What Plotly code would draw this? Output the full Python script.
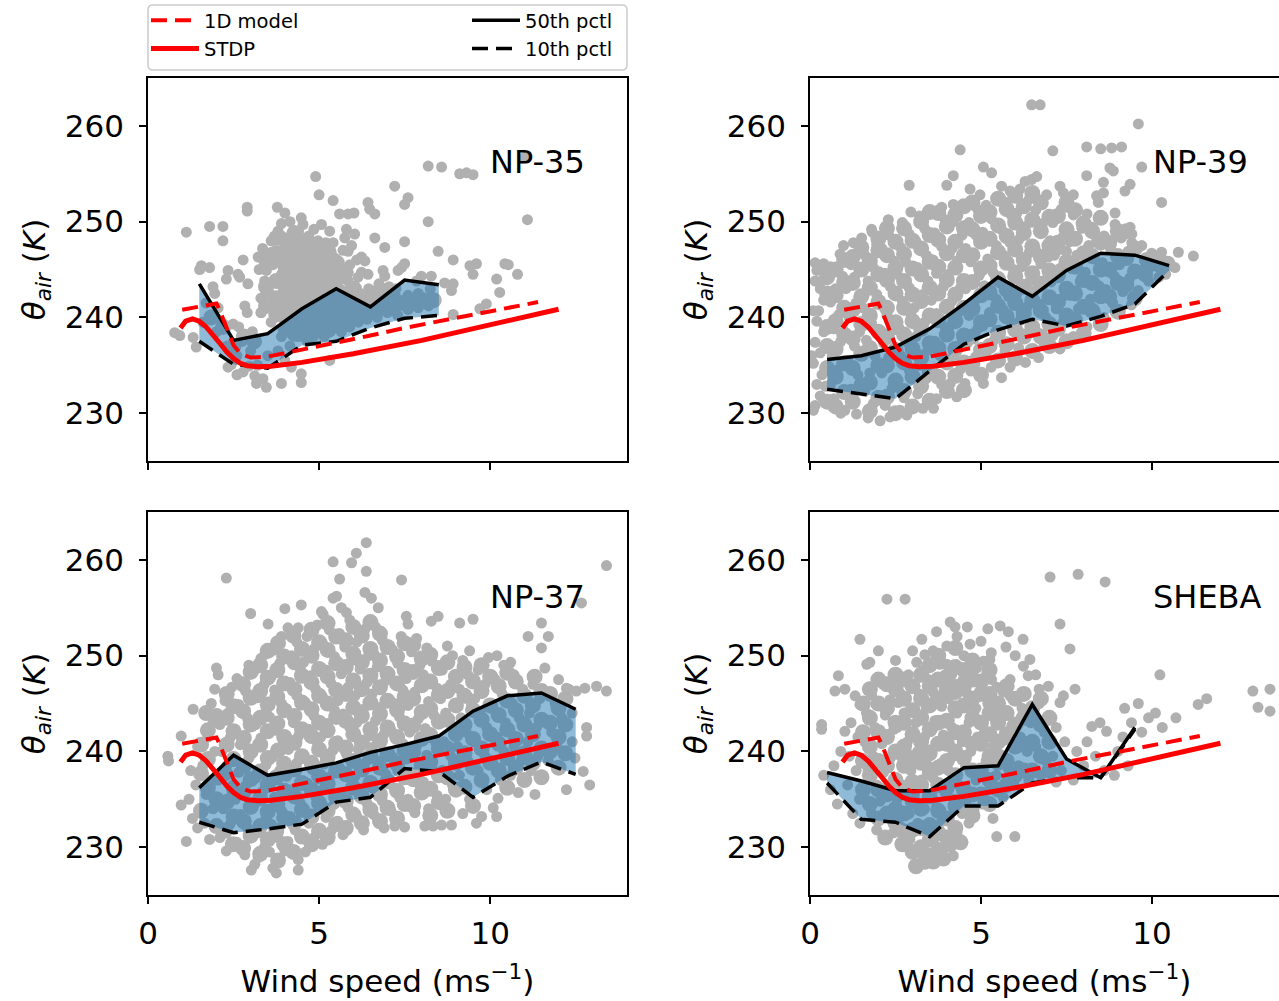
import plotly.graph_objects as go

W, H = 1279, 1001

# ---------------- model curves (same in every panel) ----------------
model1d_x = [1.0, 2.0, 2.1, 2.3, 2.5, 2.7, 3.0, 3.5, 4.5, 5.5, 6.5, 7.5, 8.5, 9.5, 10.5, 11.4]
model1d_y = [240.8, 241.45, 240.7, 238.8, 237.1, 236.2, 235.8, 235.9, 236.6, 237.3, 238.1, 238.9, 239.6, 240.3, 241.0, 241.6]
stdp_x = [0.95, 1.1, 1.3, 1.5, 1.7, 1.9, 2.1, 2.3, 2.5, 2.7, 2.9, 3.2, 3.6, 4.5, 6.0, 8.0, 10.0, 12.0]
stdp_y = [238.9, 239.6, 239.85, 239.6, 239.0, 238.2, 237.3, 236.4, 235.7, 235.2, 234.95, 234.85, 234.9, 235.3, 236.2, 237.6, 239.2, 240.85]

# ---------------- percentiles ----------------
np35_bins = [1.5, 2.5, 3.5, 4.5, 5.5, 6.5, 7.5, 8.5]
np35_p50 = [243.5, 237.6, 238.3, 240.9, 243.0, 241.1, 243.9, 243.4]
np35_p10 = [237.5, 235.1, 234.7, 237.1, 237.5, 238.9, 239.9, 240.2]

np39_bins = [0.5, 1.5, 2.5, 3.5, 4.5, 5.5, 6.5, 7.5, 8.5, 9.5, 10.5]
np39_p50 = [235.6, 236.0, 236.9, 238.8, 241.4, 244.2, 242.2, 244.9, 246.7, 246.5, 245.4]
np39_p10 = [232.5, 232.0, 231.5, 234.4, 237.2, 238.7, 239.8, 239.1, 240.1, 241.4, 244.9]

np37_bins = [1.5, 2.5, 3.5, 4.5, 5.5, 6.5, 7.5, 8.5, 9.5, 10.5, 11.5, 12.5]
np37_p50 = [236.2, 239.6, 237.5, 238.1, 238.8, 239.9, 240.7, 241.6, 244.2, 245.8, 246.1, 244.4]
np37_p10 = [232.6, 231.5, 231.9, 232.4, 234.7, 235.2, 238.2, 237.9, 235.2, 237.4, 238.9, 237.6]

sheba_bins = [0.5, 1.5, 2.5, 3.5, 4.5, 5.5, 6.5, 7.5, 8.5, 9.5]
sheba_p50 = [237.8, 236.9, 235.9, 235.9, 238.3, 238.5, 244.9, 239.2, 237.25, 242.5]
sheba_p10 = [236.7, 232.9, 232.6, 231.1, 234.3, 234.3, 236.7, 237.25, 237.25, 242.3]

# ---------------- observations (wind speed, theta_air) ----------------
np35_points = [
    (8.19, 255.8), (8.58, 255.7), (9.11, 255.0), (9.31, 255.1), (9.50, 254.9), (11.0, 256.7), (11.09, 250.2),
    (4.90, 254.7), (7.21, 253.7), (5.0, 252.8), (5.41, 252.2), (7.60, 252.5), (7.50, 251.8), (6.43, 252.0),
    (6.48, 251.3), (6.63, 250.8), (2.90, 251.5), (2.90, 251.1), (3.78, 251.5), (4.0, 250.9), (5.60, 250.8),
    (5.85, 250.8), (6.02, 250.9), (4.48, 250.4), (4.53, 249.7), (8.19, 250.0), (1.80, 249.5), (2.19, 249.5),
    (1.12, 248.9), (5.07, 249.7), (5.31, 249.0), (3.80, 249.0), (3.90, 248.5), (2.19, 248.0), (5.80, 249.2),
    (6.04, 248.7), (5.75, 248.3), (6.63, 248.3), (7.50, 247.9), (4.68, 247.6), (4.29, 247.6), (4.09, 246.9),
    (4.97, 248.0), (5.21, 247.5), (5.41, 247.8), (6.92, 247.3), (8.48, 246.9), (3.61, 246.8), (3.22, 246.3),
    (2.78, 246.0), (4.78, 246.3), (5.07, 246.6), (5.85, 246.9), (6.24, 246.3), (6.34, 245.9), (8.92, 246.0),
    (9.41, 245.4), (9.60, 245.6), (9.50, 244.5), (10.43, 245.6), (10.53, 245.5), (10.80, 244.5), (1.51, 245.0),
    (1.80, 245.2), (1.56, 245.4), (2.34, 244.9), (2.29, 244.0), (2.63, 244.5), (2.68, 244.2), (2.92, 243.5),
    (1.90, 243.2), (3.46, 244.9), (3.41, 243.8), (3.70, 243.8), (6.24, 244.7), (6.14, 244.2), (6.43, 244.5),
    (6.87, 244.9), (6.92, 244.3), (6.82, 243.1), (7.31, 244.9), (7.50, 245.6), (7.41, 245.2), (7.99, 244.3),
    (8.28, 244.3), (8.67, 243.6), (8.92, 243.5), (8.87, 242.8), (10.19, 244.0), (10.28, 242.6), (9.89, 241.4),
    (9.70, 240.9), (8.92, 240.3), (2.83, 241.2), (2.49, 239.3), (0.78, 238.4), (0.93, 238.1), (1.32, 237.9),
    (1.41, 236.9), (3.31, 240.5), (2.44, 235.1), (2.34, 234.8), (2.78, 234.3), (3.12, 233.9), (3.17, 233.1),
    (3.46, 232.7), (3.36, 233.6), (3.90, 233.1), (4.19, 234.8), (4.48, 234.1), (4.48, 233.2), (5.31, 235.5),
    (3.3, 240.5), (3.3, 242.0), (3.25, 245.0), (3.35, 247.2),
    (3.6, 239.5), (3.6, 241.0), (3.55, 242.5), (3.65, 245.5), (3.6, 248.0),
    (3.9, 238.0), (3.9, 240.0), (3.85, 241.5), (3.95, 243.0), (3.9, 244.5), (3.85, 245.8), (3.95, 247.0), (3.9, 249.8),
    (4.15, 237.0), (4.15, 239.0), (4.2, 240.5), (4.1, 242.0), (4.15, 243.5), (4.2, 244.8), (4.15, 246.2), (4.2, 248.2), (4.15, 250.0),
    (4.4, 238.0), (4.4, 239.5), (4.45, 241.0), (4.35, 242.5), (4.4, 243.8), (4.45, 245.0), (4.4, 246.0), (4.35, 247.3), (4.4, 249.0),
    (4.65, 237.5), (4.65, 239.0), (4.7, 240.5), (4.6, 242.0), (4.65, 243.2), (4.7, 244.5), (4.6, 245.5), (4.65, 246.8), (4.7, 248.5),
    (4.9, 238.5), (4.9, 240.0), (4.95, 241.5), (4.85, 242.8), (4.9, 244.0), (4.95, 245.2), (4.9, 246.5), (4.85, 249.2),
    (5.15, 238.0), (5.15, 239.5), (5.2, 241.0), (5.1, 242.5), (5.15, 243.5), (5.2, 244.8), (5.15, 246.0), (5.2, 247.8),
    (5.4, 239.0), (5.4, 240.5), (5.45, 242.0), (5.35, 243.5), (5.4, 245.0), (5.45, 246.2),
    (5.65, 238.5), (5.65, 240.0), (5.7, 241.5), (5.6, 243.0), (5.65, 244.0), (5.7, 247.0),
    (5.9, 239.0), (5.9, 240.8), (5.95, 242.0), (5.85, 243.8), (5.9, 245.5), (5.95, 247.5),
    (6.15, 239.5), (6.15, 241.0), (6.2, 242.5), (6.1, 246.0), (6.4, 239.8), (6.4, 241.5), (6.45, 243.0),
    (6.7, 240.0), (6.7, 241.8), (6.75, 243.5), (7.0, 240.5), (7.0, 242.0), (7.05, 243.2),
    (7.3, 240.2), (7.3, 241.5), (7.25, 243.0), (7.6, 240.8), (7.6, 242.3),
    (7.9, 241.0), (7.9, 242.5), (7.85, 243.8), (8.2, 241.2), (8.2, 242.0), (8.25, 243.0),
    (2.6, 236.0), (2.75, 237.5), (2.65, 239.0), (2.9, 240.5), (3.0, 236.5), (3.05, 238.5),
    (2.0, 238.5), (2.05, 241.0), (1.95, 242.5), (1.6, 239.5), (1.7, 241.5), (2.3, 237.0),
    (3.5, 236.0), (3.8, 236.5), (4.0, 235.5), (3.2, 235.0), (2.95, 234.9), (2.6, 234.0),
]
np35_core = [
    (3.45, 241.2), (3.45, 243.2), (3.45, 246.0), (3.75, 240.3), (3.75, 242.0), (3.75, 243.8), (3.75, 246.7), (3.75, 248.3),
    (4.02, 238.8), (4.02, 240.8), (4.02, 242.3), (4.02, 243.8), (4.02, 245.2), (4.02, 246.3), (4.02, 248.0),
    (4.28, 238.3), (4.28, 239.8), (4.28, 241.2), (4.28, 242.8), (4.28, 244.2), (4.28, 245.5), (4.28, 246.8), (4.28, 248.8),
    (4.53, 238.8), (4.53, 240.2), (4.53, 241.6), (4.53, 243.2), (4.53, 244.3), (4.53, 245.5), (4.53, 246.7), (4.53, 248.0),
    (4.78, 238.2), (4.78, 239.8), (4.78, 241.2), (4.78, 242.5), (4.78, 243.8), (4.78, 245.0), (4.78, 247.3),
    (5.02, 238.8), (5.02, 240.8), (5.02, 242.0), (5.02, 243.3), (5.02, 244.6), (5.02, 245.8), (5.02, 247.2),
    (5.28, 238.7), (5.28, 240.2), (5.28, 241.7), (5.28, 243.0), (5.28, 244.2), (5.28, 245.5), (5.28, 246.8),
    (5.52, 239.8), (5.52, 241.3), (5.52, 242.7), (5.52, 244.2), (5.52, 245.7),
    (5.78, 239.5), (5.78, 241.0), (5.78, 242.5), (5.78, 244.7), (6.02, 240.2), (6.02, 241.5), (6.02, 243.0),
    (6.28, 240.5), (6.28, 242.0), (6.55, 240.8), (6.55, 242.5), (6.85, 241.0), (6.85, 242.5),
    (7.15, 241.0), (7.15, 242.4), (7.45, 241.5), (7.75, 241.5), (8.05, 241.8), (8.35, 241.8),
    (2.8, 238.0), (2.5, 237.0), (3.1, 237.5), (2.2, 239.0), (1.85, 240.0),
]

np39_points = [
    (0.1, 230.3), (0.15, 230.8), (0.3, 231.8), (0.2, 233.0), (0.35, 234.0), (0.1, 235.2), (0.3, 236.3), (0.15, 237.4),
    (0.4, 238.5), (0.2, 239.6), (0.1, 240.7), (0.25, 240.7), (0.4, 241.8), (0.3, 243.0), (0.15, 243.8), (0.2, 244.9),
    (0.15, 245.7), (0.4, 245.6), (0.34, 243.8), (0.5, 245.0), (0.45, 232.8), (0.05, 236.0),
    (0.9, 230.0), (0.7, 231.5), (0.6, 233.0), (0.8, 234.5), (0.65, 236.0), (0.9, 237.5), (0.7, 238.8), (0.85, 240.3),
    (0.6, 241.6), (0.75, 243.0), (0.95, 244.3), (0.6, 245.3), (0.88, 246.6), (0.98, 247.5),
    (1.36, 229.9), (1.02, 230.3), (1.2, 232.5), (1.4, 234.0), (1.1, 235.5), (1.3, 237.0), (1.45, 238.5), (1.15, 240.0),
    (1.35, 241.5), (1.05, 243.0), (1.3, 244.2), (1.2, 245.5), (1.45, 246.8), (1.27, 247.8), (1.51, 248.3),
    (1.7, 229.5), (1.85, 231.0), (1.6, 232.3), (1.75, 234.2), (1.9, 236.0), (1.65, 237.6), (1.8, 239.4), (1.55, 241.0),
    (1.95, 242.4), (1.7, 243.8), (1.85, 245.2), (1.6, 246.5), (1.95, 247.6), (1.8, 249.2), (1.82, 248.9),
    (2.05, 229.2), (2.34, 229.6), (2.2, 230.8), (2.4, 232.6), (2.1, 234.2), (2.3, 235.8), (2.15, 237.3), (2.45, 238.7),
    (2.25, 240.2), (2.05, 241.8), (2.35, 243.2), (2.2, 244.6), (2.45, 245.9), (2.1, 247.2), (2.3, 248.6), (2.29, 250.2),
    (2.83, 229.8), (2.63, 230.3), (2.75, 231.6), (2.55, 233.0), (2.9, 234.5), (2.65, 236.0), (2.85, 237.4), (2.6, 238.9),
    (2.95, 240.3), (2.7, 241.7), (2.9, 243.1), (2.55, 244.5), (2.8, 245.8), (2.65, 247.3), (2.9, 248.7), (2.7, 249.9),
    (2.9, 253.8), (2.95, 251.0),
    (3.3, 230.5), (3.15, 232.0), (3.4, 233.6), (3.2, 235.0), (3.45, 236.6), (3.1, 238.0), (3.35, 239.5), (3.05, 241.0),
    (3.3, 242.4), (3.45, 243.8), (3.15, 245.2), (3.4, 246.5), (3.1, 247.9), (3.35, 249.3), (3.2, 250.6),
    (3.61, 230.5), (3.7, 231.5), (3.85, 233.0), (3.6, 234.5), (3.8, 236.0), (3.65, 237.5), (3.95, 239.0), (3.7, 240.4),
    (3.55, 241.8), (3.9, 243.2), (3.7, 244.6), (3.6, 246.0), (3.85, 247.4), (3.65, 248.8), (3.95, 250.2), (3.85, 251.5),
    (4.0, 253.8),
    (4.29, 231.7), (4.1, 233.1), (4.4, 234.6), (4.2, 236.0), (4.45, 237.4), (4.05, 238.8), (4.3, 240.3), (4.15, 241.7),
    (4.4, 243.1), (4.05, 244.5), (4.3, 245.9), (4.15, 247.2), (4.45, 248.6), (4.2, 250.0), (4.19, 251.8), (4.19, 254.8),
    (4.39, 257.5),
    (4.53, 233.1), (4.7, 234.4), (4.85, 235.9), (4.6, 237.3), (4.9, 238.8), (4.65, 240.2), (4.8, 241.6), (4.55, 243.0),
    (4.95, 244.4), (4.7, 245.8), (4.55, 247.2), (4.85, 248.6), (4.65, 249.9), (4.9, 251.3), (4.68, 253.4), (4.97, 252.8),
    (5.07, 233.1), (5.3, 234.8), (5.15, 236.2), (5.4, 237.7), (5.05, 239.1), (5.25, 240.5), (5.45, 241.9), (5.1, 243.3),
    (5.35, 244.7), (5.2, 246.1), (5.45, 247.5), (5.05, 248.9), (5.3, 250.3), (5.15, 251.7), (5.07, 255.7), (5.31, 255.1),
    (5.6, 233.7), (5.85, 234.8), (5.7, 236.5), (5.55, 238.0), (5.9, 239.4), (5.65, 240.8), (5.8, 242.2), (5.55, 243.6),
    (5.95, 245.0), (5.7, 246.4), (5.85, 247.8), (5.6, 249.2), (5.9, 250.6), (5.75, 252.0), (5.6, 253.7), (5.85, 253.2),
    (6.3, 235.3), (6.1, 236.8), (6.4, 238.3), (6.15, 239.7), (6.35, 241.1), (6.05, 242.5), (6.45, 243.9), (6.2, 245.3),
    (6.4, 246.7), (6.1, 248.1), (6.3, 249.5), (6.05, 250.9), (6.4, 252.3), (6.14, 253.4), (6.29, 254.2), (6.48, 254.4),
    (6.48, 262.2),
    (6.68, 235.8), (6.85, 237.2), (6.6, 238.6), (6.9, 240.0), (6.7, 241.4), (6.55, 242.8), (6.95, 244.2), (6.75, 245.6),
    (6.6, 247.0), (7.02, 248.0), (6.8, 249.8), (6.6, 251.2), (6.92, 252.8), (6.63, 254.7), (6.73, 262.2), (6.97, 246.3),
    (7.31, 236.7), (7.1, 238.1), (7.4, 239.5), (7.2, 240.9), (7.45, 242.3), (7.05, 243.7), (7.3, 245.1), (7.15, 246.5),
    (7.31, 247.1), (7.4, 248.4), (7.1, 249.9), (7.35, 251.3), (7.31, 253.7), (7.41, 253.0), (7.1, 257.4),
    (7.7, 238.0), (7.55, 239.5), (7.85, 240.9), (7.6, 242.3), (7.9, 243.7), (7.65, 245.1), (7.8, 246.5), (7.5, 246.9),
    (7.6, 247.9), (7.95, 249.3), (7.7, 250.7), (7.7, 252.8), (7.55, 251.5),
    (8.1, 239.0), (8.35, 240.5), (8.2, 241.9), (8.45, 243.3), (8.05, 244.7), (8.3, 246.1), (8.15, 247.5), (8.38, 248.0),
    (8.25, 249.4), (8.1, 250.8), (8.38, 252.7), (8.43, 252.0), (8.09, 254.8), (8.09, 257.8), (8.58, 254.1),
    (8.6, 240.0), (8.85, 241.5), (8.65, 242.9), (8.9, 244.3), (8.55, 245.7), (8.8, 247.1), (8.6, 248.5), (8.92, 249.7),
    (8.92, 250.9), (8.58, 253.0), (8.77, 255.6), (8.87, 255.3), (8.5, 257.6), (8.82, 257.7),
    (9.4, 241.3), (9.15, 242.7), (9.35, 244.1), (9.05, 245.5), (9.3, 246.9), (9.1, 248.3), (9.41, 247.8), (9.41, 248.7),
    (9.36, 249.4), (9.36, 253.9), (9.21, 253.2), (9.11, 257.8), (9.6, 260.2), (9.7, 255.7),
    (9.6, 242.8), (9.9, 243.8), (10.2, 244.2), (9.75, 245.0), (9.99, 246.7), (10.28, 246.8), (10.1, 245.5), (10.4, 244.5),
    (9.7, 247.5), (10.28, 252.0), (10.67, 245.2), (10.77, 246.8), (11.21, 246.4), (10.5, 245.8),
]
np39_core = [
    (0.5, 231.2), (0.5, 234.7), (0.5, 237.0), (0.5, 239.0), (0.5, 242.5), (0.5, 244.2),
    (0.75, 230.7), (1.0, 232.2), (0.75, 233.8), (1.0, 235.2), (0.75, 236.7), (1.0, 238.2), (0.75, 239.6), (1.0, 241.0),
    (0.75, 242.3), (1.0, 243.7), (0.75, 245.0), (1.0, 246.0),
    (1.25, 231.2), (1.5, 232.9), (1.25, 234.7), (1.5, 236.2), (1.25, 237.8), (1.5, 239.3), (1.25, 240.8), (1.5, 242.2),
    (1.25, 243.6), (1.5, 245.0), (1.25, 246.3), (1.5, 247.3),
    (1.75, 230.2), (2.0, 231.6), (1.75, 233.2), (2.0, 235.0), (1.75, 236.8), (2.0, 238.5), (1.75, 240.2), (2.0, 241.6),
    (1.75, 243.1), (2.0, 244.5), (1.75, 245.9), (2.0, 247.0), (2.0, 248.2),
    (2.5, 230.0), (2.25, 231.7), (2.5, 233.4), (2.25, 235.0), (2.5, 236.6), (2.25, 238.0), (2.5, 239.5), (2.25, 241.0),
    (2.5, 242.5), (2.25, 243.9), (2.5, 245.2), (2.25, 246.5), (2.5, 247.9), (2.25, 249.3),
    (3.0, 230.7), (2.75, 232.3), (3.0, 233.8), (2.75, 235.3), (3.0, 236.7), (2.75, 238.2), (3.0, 239.6), (2.75, 241.0),
    (3.0, 242.4), (2.75, 243.8), (3.0, 245.1), (2.75, 246.6), (3.0, 248.0), (2.75, 249.3),
    (3.5, 231.3), (3.25, 232.8), (3.5, 234.3), (3.25, 235.8), (3.5, 237.3), (3.25, 238.8), (3.5, 240.2), (3.25, 241.7),
    (3.5, 243.1), (3.25, 244.5), (3.5, 245.8), (3.25, 247.2), (3.5, 248.6), (3.25, 250.0), (3.5, 251.0),
    (4.0, 232.3), (3.75, 233.8), (4.0, 235.3), (3.75, 236.8), (4.0, 238.2), (3.75, 239.7), (4.0, 241.1), (3.75, 242.5),
    (4.0, 243.9), (3.75, 245.3), (4.0, 246.7), (3.75, 248.1), (4.0, 249.5), (3.75, 250.9),
    (4.5, 232.4), (4.25, 233.9), (4.5, 235.3), (4.25, 236.7), (4.5, 238.1), (4.25, 239.6), (4.5, 241.0), (4.25, 242.4),
    (4.5, 243.8), (4.25, 245.2), (4.5, 246.5), (4.25, 247.9), (4.5, 249.3), (4.25, 250.7), (4.5, 251.6),
    (5.0, 234.0), (4.75, 235.2), (5.0, 236.6), (4.75, 238.0), (5.0, 239.5), (4.75, 240.9), (5.0, 242.3), (4.75, 243.7),
    (5.0, 245.1), (4.75, 246.5), (5.0, 247.9), (4.75, 249.2), (5.0, 250.6), (4.75, 252.0),
    (5.5, 235.5), (5.25, 237.0), (5.5, 238.4), (5.25, 239.8), (5.5, 241.2), (5.25, 242.6), (5.5, 244.0), (5.25, 245.4),
    (5.5, 246.8), (5.25, 248.2), (5.5, 249.6), (5.25, 251.0), (5.5, 252.4),
    (6.0, 235.7), (5.75, 237.2), (6.0, 238.7), (5.75, 240.1), (6.0, 241.5), (5.75, 242.9), (6.0, 244.3), (5.75, 245.7),
    (6.0, 247.1), (5.75, 248.5), (6.0, 249.9), (5.75, 251.3), (6.0, 252.7),
    (6.5, 236.5), (6.25, 238.0), (6.5, 239.0), (6.25, 240.4), (6.5, 241.8), (6.25, 243.2), (6.5, 244.6), (6.25, 246.0),
    (6.5, 247.4), (6.25, 248.8), (6.5, 250.2), (6.25, 251.6), (6.5, 253.0),
    (7.0, 237.0), (6.75, 238.0), (7.0, 239.3), (6.75, 240.7), (7.0, 242.1), (6.75, 243.5), (7.0, 244.9), (6.75, 246.3),
    (7.0, 247.5), (6.75, 249.0), (7.0, 250.5), (6.75, 252.0),
    (7.5, 237.5), (7.25, 238.8), (7.5, 240.2), (7.25, 241.6), (7.5, 243.0), (7.25, 244.4), (7.5, 245.8), (7.25, 247.8),
    (7.5, 249.2), (7.25, 250.6), (7.5, 252.0),
    (8.0, 238.3), (7.75, 239.7), (8.0, 241.1), (7.75, 242.5), (8.0, 243.9), (7.75, 245.3), (8.0, 246.7), (7.75, 248.2),
    (8.0, 249.8), (7.75, 251.2),
    (8.5, 239.3), (8.25, 240.7), (8.5, 242.2), (8.25, 243.6), (8.5, 245.0), (8.25, 246.4), (8.5, 247.8), (8.25, 249.0),
    (8.5, 250.4),
    (9.0, 240.6), (8.75, 242.2), (9.0, 243.6), (8.75, 245.0), (9.0, 246.4), (8.75, 247.8), (9.0, 249.0),
    (9.5, 242.0), (9.25, 243.4), (9.5, 244.8), (9.25, 246.2), (9.5, 247.2), (9.25, 249.0),
    (9.8, 244.5), (10.0, 245.6), (10.3, 245.2), (9.85, 246.0), (10.2, 246.0), (10.45, 245.6),
]

np37_points = [
    (0.58, 239.5), (0.6, 239.0), (0.97, 241.6), (0.97, 234.4), (1.12, 230.6),
    (1.3, 233.0), (1.2, 235.0), (1.4, 236.5), (1.25, 238.0), (1.32, 244.4), (1.45, 240.5), (1.45, 232.0),
    (1.8, 230.8), (1.65, 232.5), (1.9, 234.0), (1.7, 235.5), (1.85, 237.0), (1.6, 238.5), (1.95, 240.0), (1.75, 241.5),
    (1.9, 243.0), (1.85, 245.0), (1.95, 246.5),
    (2.29, 229.6), (2.1, 231.0), (2.4, 232.4), (2.2, 234.0), (2.45, 235.5), (2.05, 237.0), (2.3, 238.5), (2.15, 240.0),
    (2.4, 241.4), (2.1, 242.8), (2.34, 244.0), (2.25, 245.3), (2.45, 246.7), (2.0, 248.7), (2.05, 248.0), (2.29, 258.1),
    (2.83, 229.2), (2.6, 230.5), (2.9, 232.0), (2.7, 233.4), (2.55, 235.0), (2.85, 236.4), (2.65, 237.8), (2.95, 239.3),
    (2.7, 240.7), (2.55, 242.1), (2.9, 243.5), (2.65, 244.9), (2.85, 246.3), (2.6, 247.6), (2.95, 249.0), (3.0, 254.4),
    (3.12, 228.2), (3.22, 228.9), (3.02, 227.6), (3.4, 230.0), (3.2, 231.5), (3.45, 233.0), (3.1, 234.4), (3.35, 235.8),
    (3.15, 237.2), (3.45, 238.6), (3.05, 240.0), (3.3, 241.4), (3.15, 242.8), (3.45, 244.2), (3.2, 245.6), (3.4, 247.0),
    (3.1, 248.4), (3.3, 249.7), (3.41, 250.1), (3.51, 253.3),
    (3.65, 227.8), (3.75, 227.3), (4.0, 229.6), (3.55, 229.5), (3.8, 231.0), (3.6, 232.4), (3.9, 233.8), (3.7, 235.2),
    (3.55, 236.6), (3.85, 238.0), (3.65, 239.4), (3.95, 240.8), (3.75, 242.2), (3.55, 243.6), (3.9, 245.0), (3.7, 246.4),
    (3.6, 247.8), (3.85, 249.2), (3.7, 250.6), (3.9, 252.0), (4.0, 254.9),
    (4.39, 227.6), (4.39, 228.7), (4.09, 230.6), (4.3, 231.8), (4.15, 233.2), (4.45, 234.6), (4.2, 236.0), (4.05, 237.4),
    (4.35, 238.8), (4.1, 240.2), (4.4, 241.6), (4.25, 243.0), (4.05, 244.4), (4.35, 245.8), (4.15, 247.2), (4.45, 248.6),
    (4.2, 250.0), (4.35, 251.4), (4.09, 252.9), (4.39, 252.9), (4.48, 255.3),
    (4.6, 229.5), (4.85, 231.0), (4.7, 232.5), (4.55, 233.9), (4.9, 235.3), (4.65, 236.7), (4.8, 238.1), (4.55, 239.5),
    (4.95, 240.9), (4.7, 242.3), (4.85, 243.7), (4.6, 245.1), (4.9, 246.5), (4.75, 247.9), (4.55, 249.3), (4.85, 250.7),
    (4.65, 252.0), (4.95, 253.2),
    (5.1, 230.3), (5.35, 231.7), (5.2, 233.1), (5.45, 234.5), (5.05, 235.9), (5.3, 237.3), (5.15, 238.7), (5.4, 240.1),
    (5.05, 241.5), (5.25, 242.9), (5.45, 244.3), (5.1, 245.7), (5.35, 247.1), (5.2, 248.5), (5.45, 249.9), (5.1, 251.3),
    (5.3, 252.7), (5.07, 254.6), (5.12, 254.3), (5.41, 256.0), (5.41, 259.8),
    (5.7, 231.3), (5.55, 232.7), (5.85, 234.1), (5.65, 235.5), (5.95, 236.9), (5.6, 238.3), (5.8, 239.7), (5.55, 241.1),
    (5.9, 242.5), (5.7, 243.9), (5.55, 245.3), (5.85, 246.7), (5.65, 248.1), (5.95, 249.5), (5.75, 250.9), (5.6, 252.3),
    (5.9, 253.7), (5.65, 255.0), (5.8, 254.5), (5.51, 256.2), (5.6, 258.0), (5.95, 259.7),
    (6.3, 231.8), (6.1, 233.2), (6.4, 234.6), (6.2, 236.0), (6.05, 237.4), (6.35, 238.8), (6.15, 240.2), (6.45, 241.6),
    (6.1, 243.0), (6.3, 244.4), (6.05, 245.8), (6.4, 247.2), (6.2, 248.6), (6.45, 250.0), (6.1, 251.4), (6.35, 252.8),
    (6.34, 256.6), (6.38, 258.8), (6.09, 260.7), (6.38, 261.8),
    (6.9, 232.0), (6.6, 233.4), (6.85, 234.8), (6.55, 236.2), (6.95, 237.6), (6.7, 239.0), (6.55, 240.4), (6.9, 241.8),
    (6.65, 243.2), (6.8, 244.6), (6.55, 246.0), (6.95, 247.4), (6.7, 248.8), (6.6, 250.2), (6.85, 251.6), (6.65, 253.0),
    (6.73, 255.0), (6.53, 256.0),
    (7.21, 232.2), (7.5, 232.1), (7.1, 233.8), (7.35, 235.2), (7.05, 236.6), (7.3, 238.0), (7.15, 239.4), (7.45, 240.8),
    (7.1, 242.2), (7.35, 243.6), (7.2, 245.0), (7.45, 246.4), (7.05, 247.8), (7.3, 249.2), (7.15, 250.6), (7.4, 252.0),
    (7.41, 257.9),
    (7.8, 233.6), (7.6, 235.0), (7.95, 236.4), (7.7, 237.8), (7.55, 239.2), (7.85, 240.6), (7.65, 242.0), (7.9, 243.4),
    (7.6, 244.8), (7.8, 246.2), (7.55, 247.6), (7.95, 249.0), (7.7, 250.4), (7.85, 251.8), (7.6, 253.3), (7.55, 254.1),
    (8.09, 232.2), (8.33, 232.2), (8.2, 234.0), (8.45, 235.4), (8.05, 236.8), (8.3, 238.2), (8.15, 239.6), (8.4, 241.0),
    (8.1, 242.4), (8.35, 243.8), (8.2, 245.2), (8.45, 246.6), (8.05, 248.0), (8.3, 249.4), (8.15, 250.8), (8.28, 253.6),
    (8.48, 254.1),
    (8.58, 232.3), (8.87, 232.3), (8.7, 235.0), (8.9, 236.5), (8.6, 238.0), (8.85, 239.5), (8.65, 241.0), (8.95, 242.5),
    (8.7, 244.0), (8.55, 245.5), (8.85, 247.0), (8.6, 248.5), (8.9, 250.0), (8.75, 251.0),
    (9.2, 233.5), (9.4, 235.0), (9.1, 237.5), (9.35, 239.0), (9.05, 240.5), (9.3, 242.0), (9.15, 243.5), (9.45, 245.0),
    (9.1, 246.5), (9.35, 248.0), (9.2, 249.5), (9.11, 253.4), (9.4, 250.5),
    (9.6, 232.5), (9.75, 233.2), (9.9, 236.0), (9.65, 238.0), (9.85, 239.5), (9.55, 241.0), (9.9, 242.5), (9.7, 244.0),
    (9.55, 245.5), (9.85, 247.0), (9.65, 248.5), (9.95, 249.8), (9.5, 253.8),
    (10.09, 234.1), (10.19, 233.2), (10.23, 235.1), (10.3, 237.0), (10.1, 238.5), (10.4, 240.0), (10.2, 241.5),
    (10.45, 243.0), (10.05, 244.5), (10.35, 246.0), (10.15, 247.5), (10.4, 249.0), (10.2, 250.0),
    (10.82, 235.7), (10.6, 237.5), (10.9, 239.0), (10.7, 240.5), (10.55, 242.0), (10.85, 243.5), (10.65, 245.0),
    (10.95, 246.5), (10.7, 248.0), (10.6, 249.3),
    (11.31, 235.5), (11.2, 238.0), (11.4, 239.5), (11.1, 241.0), (11.35, 242.5), (11.15, 244.0), (11.45, 245.5),
    (11.25, 247.0), (11.6, 248.7), (11.5, 250.8), (11.11, 252.0), (11.5, 253.4), (11.7, 252.0),
    (11.7, 239.0), (11.95, 240.5), (11.8, 242.0), (12.1, 243.5), (11.9, 245.0), (12.3, 246.5), (12.0, 247.5),
    (12.4, 241.0), (12.23, 236.0), (12.48, 239.3), (12.23, 246.6), (12.52, 246.3), (12.4, 244.0),
    (12.72, 237.9), (12.91, 236.5), (12.82, 242.5), (12.82, 241.6), (12.77, 246.6), (13.11, 246.8), (13.4, 246.3),
    (12.67, 255.5), (13.4, 259.4),
]
np37_core = [
    (1.55, 233.8), (1.75, 236.2), (1.55, 237.7), (1.75, 239.2), (1.55, 240.7), (1.75, 242.2), (2.0, 243.7), (1.7, 244.0),
    (2.0, 232.2), (2.0, 235.0),
    (2.48, 230.3), (2.25, 231.7), (2.5, 233.2), (2.3, 234.7), (2.5, 236.2), (2.25, 237.7), (2.5, 239.2), (2.3, 240.7),
    (2.5, 242.1), (2.3, 243.5), (2.5, 244.7), (2.3, 246.0),
    (2.78, 229.9), (3.0, 231.2), (2.8, 232.7), (3.0, 234.2), (2.78, 235.7), (3.0, 237.1), (2.8, 238.5), (3.0, 240.0),
    (2.8, 241.4), (3.0, 242.8), (2.78, 244.2), (3.0, 245.6), (2.78, 247.0), (3.0, 248.3),
    (3.28, 229.3), (3.5, 230.8), (3.28, 232.2), (3.5, 233.7), (3.28, 235.1), (3.5, 236.5), (3.28, 237.9), (3.5, 239.3),
    (3.28, 240.7), (3.5, 242.1), (3.28, 243.5), (3.5, 244.9), (3.28, 246.3), (3.5, 247.7), (3.28, 249.0), (3.5, 250.5),
    (3.8, 228.6), (3.98, 230.3), (3.75, 231.7), (3.98, 233.1), (3.78, 234.5), (3.98, 235.9), (3.75, 237.3), (3.98, 238.7),
    (3.8, 240.1), (3.98, 241.5), (3.78, 242.9), (3.98, 244.3), (3.78, 245.7), (3.98, 247.1), (3.78, 248.5), (3.98, 249.9),
    (3.8, 251.3),
    (4.25, 229.5), (4.5, 231.1), (4.28, 232.5), (4.5, 233.9), (4.28, 235.3), (4.5, 236.7), (4.28, 238.1), (4.5, 239.5),
    (4.28, 240.9), (4.5, 242.3), (4.28, 243.7), (4.5, 245.1), (4.28, 246.5), (4.5, 247.9), (4.28, 249.3), (4.5, 250.7),
    (4.25, 252.1),
    (4.78, 230.3), (5.0, 231.7), (4.78, 233.2), (5.0, 234.6), (4.78, 236.0), (5.0, 237.4), (4.78, 238.8), (5.0, 240.2),
    (4.78, 241.6), (5.0, 243.0), (4.78, 244.4), (5.0, 245.8), (4.78, 247.2), (5.0, 248.6), (4.78, 250.0), (5.0, 251.4),
    (4.78, 252.7),
    (5.25, 231.0), (5.5, 232.4), (5.25, 233.8), (5.5, 235.2), (5.25, 236.6), (5.5, 238.0), (5.25, 239.4), (5.5, 240.8),
    (5.25, 242.2), (5.5, 243.6), (5.25, 245.0), (5.5, 246.4), (5.25, 247.8), (5.5, 249.2), (5.25, 250.6), (5.5, 252.0),
    (5.25, 253.4),
    (5.78, 232.0), (6.0, 233.4), (5.78, 234.8), (6.0, 236.2), (5.78, 237.6), (6.0, 239.0), (5.78, 240.4), (6.0, 241.8),
    (5.78, 243.2), (6.0, 244.6), (5.78, 246.0), (6.0, 247.4), (5.78, 248.8), (6.0, 250.2), (5.78, 251.6), (6.0, 253.0),
    (6.25, 232.5), (6.5, 233.9), (6.25, 235.3), (6.5, 236.7), (6.25, 238.1), (6.5, 239.5), (6.25, 240.9), (6.5, 242.3),
    (6.25, 243.7), (6.5, 245.1), (6.25, 246.5), (6.5, 247.9), (6.25, 249.3), (6.5, 250.7), (6.25, 252.1), (6.5, 253.5),
    (6.78, 232.7), (7.0, 234.1), (6.78, 235.5), (7.0, 236.9), (6.78, 238.3), (7.0, 239.7), (6.78, 241.1), (7.0, 242.5),
    (6.78, 243.9), (7.0, 245.3), (6.78, 246.7), (7.0, 248.1), (6.78, 249.5), (7.0, 250.9), (6.78, 252.3),
    (7.28, 233.0), (7.5, 234.5), (7.28, 235.9), (7.5, 237.3), (7.28, 238.7), (7.5, 240.1), (7.28, 241.5), (7.5, 242.9),
    (7.28, 244.3), (7.5, 245.7), (7.28, 247.1), (7.5, 248.5), (7.28, 249.9), (7.5, 251.3),
    (7.75, 234.3), (8.0, 235.7), (7.75, 237.1), (8.0, 238.5), (7.75, 239.9), (8.0, 241.3), (7.75, 242.7), (8.0, 244.1),
    (7.75, 245.5), (8.0, 246.9), (7.75, 248.3), (8.0, 249.7), (7.75, 251.1),
    (8.25, 233.3), (8.5, 234.7), (8.25, 236.1), (8.5, 237.5), (8.25, 238.9), (8.5, 240.3), (8.25, 241.7), (8.5, 243.1),
    (8.25, 244.5), (8.5, 245.9), (8.25, 247.3), (8.5, 248.7), (8.25, 250.1),
    (8.75, 233.8), (9.0, 236.0), (8.75, 237.3), (9.0, 238.8), (8.75, 240.3), (9.0, 241.8), (8.75, 243.3), (9.0, 244.8),
    (8.75, 246.3), (9.0, 247.8), (8.75, 249.3),
    (9.5, 234.3), (9.25, 236.3), (9.5, 238.3), (9.25, 239.8), (9.5, 241.3), (9.25, 242.8), (9.5, 244.3), (9.25, 245.8),
    (9.5, 247.3), (9.25, 248.8),
    (9.75, 237.0), (10.0, 238.8), (9.75, 240.3), (10.0, 241.8), (9.75, 243.3), (10.0, 244.8), (9.75, 246.3), (10.0, 247.8),
    (9.75, 249.0),
    (10.5, 236.2), (10.25, 238.0), (10.5, 239.3), (10.25, 240.8), (10.5, 242.3), (10.25, 243.8), (10.5, 245.3),
    (10.25, 246.8), (10.5, 248.2),
    (11.0, 237.0), (10.75, 238.3), (11.0, 239.8), (10.75, 241.3), (11.0, 242.8), (10.75, 244.3), (11.0, 245.8), (10.75, 247.3),
    (11.5, 237.3), (11.25, 238.8), (11.5, 240.3), (11.25, 241.8), (11.5, 243.3), (11.25, 244.8), (11.5, 246.3), (11.3, 247.8),
    (12.0, 238.3), (11.75, 240.0), (12.0, 241.5), (11.75, 243.0), (12.0, 244.5), (11.75, 246.0), (12.2, 239.8),
    (12.2, 242.8), (12.2, 245.5),
]

sheba_points = [
    (0.34, 242.8), (0.34, 242.3), (0.4, 237.5), (0.6, 236.0), (0.8, 234.5), (0.7, 238.5), (0.73, 246.3), (0.83, 247.9),
    (1.02, 242.1), (1.02, 246.5), (0.9, 240.0),
    (1.32, 245.8), (1.46, 244.9), (1.2, 243.0), (1.4, 241.5), (1.15, 239.5), (1.35, 238.0), (1.1, 236.5), (1.45, 235.0),
    (1.25, 233.5), (1.46, 232.5), (1.66, 249.1), (1.46, 251.7), (1.75, 249.3),
    (1.8, 245.9), (1.65, 244.0), (1.9, 242.5), (1.6, 241.0), (1.85, 239.5), (1.7, 238.0), (1.95, 236.5), (1.6, 235.0),
    (1.8, 233.5), (1.95, 231.8),
    (2.14, 247.0), (2.34, 245.4), (2.2, 243.8), (2.45, 242.3), (2.1, 240.8), (2.35, 239.3), (2.15, 237.8), (2.4, 236.3),
    (2.05, 234.8), (2.3, 233.3), (2.44, 231.5), (2.25, 255.9),
    (2.58, 245.1), (2.63, 246.1), (2.88, 248.0), (2.75, 244.0), (2.55, 242.5), (2.85, 241.0), (2.65, 239.5), (2.95, 238.0),
    (2.7, 236.5), (2.55, 235.0), (2.9, 233.5), (2.7, 232.0), (2.92, 230.8), (2.78, 255.9),
    (3.12, 249.3), (3.36, 248.6), (3.46, 247.5), (3.2, 246.0), (3.4, 244.5), (3.1, 243.0), (3.35, 241.5), (3.15, 240.0),
    (3.45, 238.5), (3.25, 237.0), (3.05, 235.5), (3.35, 234.0), (3.15, 232.5), (3.22, 230.1), (3.31, 228.7), (3.36, 228.2),
    (3.27, 251.7), (3.45, 231.5),
    (3.7, 247.7), (4.0, 249.1), (3.6, 246.2), (3.85, 244.7), (3.65, 243.2), (3.9, 241.7), (3.55, 240.2), (3.8, 238.7),
    (3.6, 237.2), (3.95, 235.7), (3.7, 234.2), (3.85, 232.7), (3.56, 229.4), (3.9, 229.8), (3.65, 231.0), (3.75, 230.0),
    (4.14, 248.0), (4.29, 247.0), (4.48, 247.5), (4.05, 245.5), (4.3, 244.0), (4.15, 242.5), (4.45, 241.0), (4.2, 239.5),
    (4.05, 238.0), (4.35, 236.5), (4.2, 235.0), (4.45, 233.5), (4.19, 229.1), (4.3, 231.5), (4.24, 253.0),
    (4.87, 248.7), (4.6, 246.0), (4.85, 244.5), (4.65, 243.0), (4.9, 241.5), (4.7, 240.0), (4.55, 238.5), (4.85, 237.0),
    (4.6, 235.5), (4.8, 234.0), (4.65, 232.5), (4.68, 251.2),
    (5.07, 249.4), (5.17, 248.2), (5.31, 247.5), (5.46, 246.7), (5.2, 245.0), (5.4, 243.5), (5.1, 242.0), (5.35, 240.5),
    (5.15, 239.0), (5.45, 237.5), (5.25, 236.0), (5.05, 234.5), (5.46, 231.1), (5.35, 233.0),
    (5.56, 253.1), (5.73, 250.9), (5.65, 246.2), (5.85, 245.8), (5.6, 244.2), (5.9, 242.7), (5.7, 241.2), (5.55, 239.7),
    (5.8, 238.2), (5.95, 236.7), (5.65, 235.2), (5.99, 231.1),
    (6.23, 251.7), (6.43, 249.6), (6.24, 248.9), (6.38, 247.9), (6.2, 244.5), (6.45, 243.0), (6.15, 241.5), (6.35, 240.0),
    (6.1, 238.5), (6.4, 237.0),
    (6.97, 246.8), (6.7, 245.0), (6.55, 243.5), (6.85, 242.0), (6.6, 240.5), (6.9, 239.0), (6.75, 237.5), (7.02, 258.2),
    (7.41, 245.8), (7.31, 245.1), (7.31, 253.3), (7.2, 242.5), (7.45, 241.0), (7.1, 239.5), (7.35, 238.0), (7.2, 236.8),
    (7.75, 246.5), (7.6, 250.7), (7.84, 258.5), (8.63, 257.7), (8.24, 242.6), (8.48, 243.0), (8.67, 242.1), (7.8, 240.0),
    (8.0, 238.5), (7.7, 237.0), (8.35, 239.5), (8.6, 238.0), (8.1, 241.0),
    (9.2, 244.5), (9.4, 243.0), (9.15, 241.5), (9.0, 240.0), (9.3, 238.5), (8.9, 237.5), (9.7, 242.0), (9.9, 243.5),
    (9.6, 245.0), (10.1, 244.0), (10.3, 242.5), (10.23, 248.0),
    (11.35, 244.9), (12.95, 246.3), (13.45, 246.5), (13.1, 244.6), (13.45, 244.2), (10.7, 243.5), (11.6, 245.5),
    (3.0, 250.5), (3.6, 250.5), (4.0, 251.0), (4.3, 252.0), (4.5, 250.0), (5.0, 251.5), (5.3, 250.3), (5.8, 252.5),
    (6.0, 250.0), (6.6, 248.0), (3.36, 250.1), (3.8, 249.1), (4.82, 248.6), (5.26, 249.6), (5.85, 247.5), (6.7, 246.5),
    (2.5, 249.5), (2.0, 250.5), (3.7, 252.5), (4.1, 253.5), (4.6, 253.0), (5.2, 252.8),
]
sheba_core = [
    (1.55, 236.0), (1.55, 239.0), (1.55, 242.0), (1.55, 245.0), (2.0, 233.0), (2.0, 236.0), (2.0, 239.0), (2.0, 242.0),
    (2.0, 245.0), (2.0, 247.5), (2.5, 232.5), (2.5, 234.0), (2.5, 237.0), (2.5, 240.0), (2.5, 243.0), (2.5, 246.5),
    (2.5, 248.0), (3.0, 231.8), (3.0, 234.8), (3.0, 236.8), (3.0, 239.3), (3.0, 241.8), (3.0, 244.3), (3.0, 246.8),
    (3.5, 230.8), (3.5, 232.3), (3.5, 235.3), (3.5, 237.8), (3.5, 239.8), (3.5, 242.3), (3.5, 244.8), (3.5, 246.8),
    (3.5, 249.0), (4.0, 231.0), (4.0, 233.0), (4.0, 236.2), (4.0, 239.0), (4.0, 240.8), (4.0, 243.2), (4.0, 246.5),
    (4.0, 247.8), (4.5, 234.3), (4.5, 236.0), (4.5, 239.3), (4.5, 242.0), (4.5, 244.8), (4.5, 246.8), (4.5, 248.5),
    (5.0, 235.5), (5.0, 238.0), (5.0, 240.8), (5.0, 243.0), (5.0, 246.0), (5.0, 247.3), (5.5, 236.0), (5.5, 238.8),
    (5.5, 241.0), (5.5, 243.0), (5.5, 245.0), (6.0, 237.5), (6.0, 240.5), (6.0, 242.8), (6.0, 245.5), (6.5, 238.0),
    (6.5, 241.0), (6.5, 244.5), (7.0, 238.0), (7.0, 241.0), (7.0, 243.5),
    (1.75, 234.5), (1.75, 237.5), (1.75, 240.5), (1.75, 243.5), (1.75, 246.5),
    (2.25, 233.5), (2.25, 235.5), (2.25, 238.5), (2.25, 241.5), (2.25, 244.5), (2.25, 247.0),
    (2.75, 231.5), (2.75, 233.5), (2.75, 236.0), (2.75, 238.5), (2.75, 240.5), (2.75, 243.0), (2.75, 245.5), (2.75, 247.5),
    (3.25, 230.0), (3.25, 232.0), (3.25, 234.0), (3.25, 236.5), (3.25, 238.8), (3.25, 241.0), (3.25, 243.5), (3.25, 245.5),
    (3.25, 248.0),
    (3.75, 229.5), (3.75, 231.5), (3.75, 233.8), (3.75, 236.5), (3.75, 238.3), (3.75, 240.8), (3.75, 243.0), (3.75, 245.5),
    (3.75, 247.5), (3.75, 250.0),
    (4.25, 232.0), (4.25, 234.3), (4.25, 237.5), (4.25, 240.0), (4.25, 242.0), (4.25, 244.5), (4.25, 246.2), (4.25, 248.8),
    (4.25, 250.8),
    (4.75, 233.3), (4.75, 235.5), (4.75, 238.0), (4.75, 240.8), (4.75, 243.5), (4.75, 245.5), (4.75, 247.5), (4.75, 249.5),
    (5.25, 234.5), (5.25, 237.0), (5.25, 239.5), (5.25, 241.8), (5.25, 244.0), (5.25, 246.0), (5.25, 248.5),
    (5.75, 236.5), (5.75, 239.0), (5.75, 241.8), (5.75, 244.0), (5.75, 246.8),
    (6.25, 238.0), (6.25, 240.8), (6.25, 243.5), (6.25, 246.0), (6.75, 239.5), (6.75, 242.8), (6.75, 245.5),
    (2.2, 231.0), (2.7, 230.3), (3.0, 229.5), (3.4, 229.0), (3.6, 228.5), (3.9, 228.8), (4.1, 230.3), (4.4, 230.5),
    (3.1, 228.0),
]

panel_names = ["NP-35", "NP-39", "NP-37", "SHEBA"]

# ---------------- figure ----------------
fig = go.Figure()

GREY = "rgb(176,176,176)"
FILL = "rgba(31,119,180,0.5)"
DASH = "16px,8px"

panels = [
    ("x", "y", np35_points, np35_core, np35_bins, np35_p50, np35_p10),
    ("x2", "y2", np39_points, np39_core, np39_bins, np39_p50, np39_p10),
    ("x3", "y3", np37_points, np37_core, np37_bins, np37_p50, np37_p10),
    ("x4", "y4", sheba_points, sheba_core, sheba_bins, sheba_p50, sheba_p10),
]

for i, (xa, ya, pts, core, bins, p50, p10) in enumerate(panels):
    first = i == 0
    # dense core of the cloud (many overlapping observations)
    fig.add_trace(go.Scatter(
        x=[p[0] for p in core], y=[p[1] for p in core], mode="markers",
        marker=dict(size=16, color=GREY, line=dict(width=0)),
        xaxis=xa, yaxis=ya, showlegend=False, hoverinfo="skip"))
    fig.add_trace(go.Scatter(
        x=[p[0] for p in pts], y=[p[1] for p in pts], mode="markers",
        marker=dict(size=11, color=GREY, line=dict(width=0)),
        xaxis=xa, yaxis=ya, showlegend=False, hoverinfo="skip"))
    fig.add_trace(go.Scatter(x=bins, y=p10, mode="lines", line=dict(width=0),
                             xaxis=xa, yaxis=ya, showlegend=False, hoverinfo="skip"))
    fig.add_trace(go.Scatter(x=bins, y=p50, mode="lines", line=dict(width=0),
                             fill="tonexty", fillcolor=FILL,
                             xaxis=xa, yaxis=ya, showlegend=False, hoverinfo="skip"))
    fig.add_trace(go.Scatter(x=bins, y=p50, mode="lines", name="50th pctl",
                             line=dict(color="black", width=3.5),
                             xaxis=xa, yaxis=ya, showlegend=first, legend="legend2"))
    fig.add_trace(go.Scatter(x=bins, y=p10, mode="lines", name="10th pctl",
                             line=dict(color="black", width=3.5, dash=DASH),
                             xaxis=xa, yaxis=ya, showlegend=first, legend="legend2"))
    fig.add_trace(go.Scatter(x=model1d_x, y=model1d_y, mode="lines", name="1D model",
                             line=dict(color="red", width=4, dash=DASH),
                             xaxis=xa, yaxis=ya, showlegend=first, legend="legend"))
    fig.add_trace(go.Scatter(x=stdp_x, y=stdp_y, mode="lines", name="STDP",
                             line=dict(color="red", width=5),
                             xaxis=xa, yaxis=ya, showlegend=first, legend="legend"))

FONT = "DejaVu Sans"
TICKFS = 31

def xax(domain, rng, labels, title):
    d = dict(domain=domain, range=rng, showline=True, linecolor="black", linewidth=1.6,
             mirror=True, ticks="outside", ticklen=7, tickwidth=1.6, tickcolor="black",
             tickvals=[0, 5, 10], showgrid=False, zeroline=False, showticklabels=labels,
             tickfont=dict(size=TICKFS, color="black"), automargin=False, ticklabelstandoff=3)
    if title:
        d["title"] = dict(text="Wind speed (ms<sup>−1</sup>)", font=dict(size=TICKFS, color="black"), standoff=20)
    return d

def yax(domain, anchor, mirror):
    return dict(domain=domain, range=[225, 265], anchor=anchor, showline=True, linecolor="black",
                linewidth=1.6, mirror=mirror, ticks="outside", ticklen=7, tickwidth=1.6,
                tickcolor="black", tickvals=[230, 240, 250, 260], showgrid=False, zeroline=False,
                tickfont=dict(size=TICKFS, color="black"), automargin=False, ticklabelstandoff=9,
                title=dict(text="<i>θ</i><sub><i>air</i></sub> (<i>K</i>)",
                           font=dict(size=TICKFS, color="black"), standoff=10))

LX = [148 / W, 627 / W]
RX = [810 / W, 1.0]
TY = [1 - 461 / H, 1 - 78 / H]
BY = [1 - 895 / H, 1 - 512 / H]
RXMAX = (W - 810) / 34.2

fig.update_layout(
    width=W, height=H, margin=dict(l=0, r=0, t=0, b=0),
    paper_bgcolor="white", plot_bgcolor="white",
    font=dict(family=FONT, color="black"),
    xaxis=dict(anchor="y", **xax(LX, [0, 14], False, False)),
    yaxis=yax(TY, "x", True),
    xaxis2=dict(anchor="y2", **xax(RX, [0, RXMAX], False, False)),
    yaxis2=yax(TY, "x2", False),
    xaxis3=dict(anchor="y3", **xax(LX, [0, 14], True, True)),
    yaxis3=yax(BY, "x3", True),
    xaxis4=dict(anchor="y4", **xax(RX, [0, RXMAX], True, True)),
    yaxis4=yax(BY, "x4", False),
    legend=dict(x=146 / W, y=1 - 1 / H, xanchor="left", yanchor="top", bgcolor="rgba(0,0,0,0)",
                font=dict(size=19.5, color="black"), itemwidth=48, traceorder="normal"),
    legend2=dict(x=467 / W, y=1 - 1 / H, xanchor="left", yanchor="top", bgcolor="rgba(0,0,0,0)",
                 font=dict(size=19.5, color="black"), itemwidth=48, traceorder="normal"),
    showlegend=True,
)

# rounded legend frame
x0, x1 = 148 / W, 627 / W
y0, y1 = 1 - 70 / H, 1 - 5 / H
rx, ry = 5 / W, 5 / H
path = (f"M {x0+rx},{y1} L {x1-rx},{y1} Q {x1},{y1} {x1},{y1-ry} L {x1},{y0+ry} "
        f"Q {x1},{y0} {x1-rx},{y0} L {x0+rx},{y0} Q {x0},{y0} {x0},{y0+ry} "
        f"L {x0},{y1-ry} Q {x0},{y1} {x0+rx},{y1} Z")
fig.add_shape(type="path", path=path, xref="paper", yref="paper",
              line=dict(color="rgb(204,204,204)", width=1.5), fillcolor="rgba(255,255,255,0.8)", layer="below")

label_pos = [("x", "y", 0.814, 0.781), ("x2", "y2", 0.832, 0.781),
             ("x3", "y3", 0.814, 0.778), ("x4", "y4", 0.8465, 0.778)]
for name, (xa, ya, fx, fy) in zip(panel_names, label_pos):
    fig.add_annotation(text=name, xref=f"{xa} domain", yref=f"{ya} domain", x=fx, y=fy,
                       showarrow=False, font=dict(size=32, color="black"),
                       xanchor="center", yanchor="middle")

fig.write_html("out.html", config={"displayModeBar": False},
               post_script="document.body.style.margin='0px';")
